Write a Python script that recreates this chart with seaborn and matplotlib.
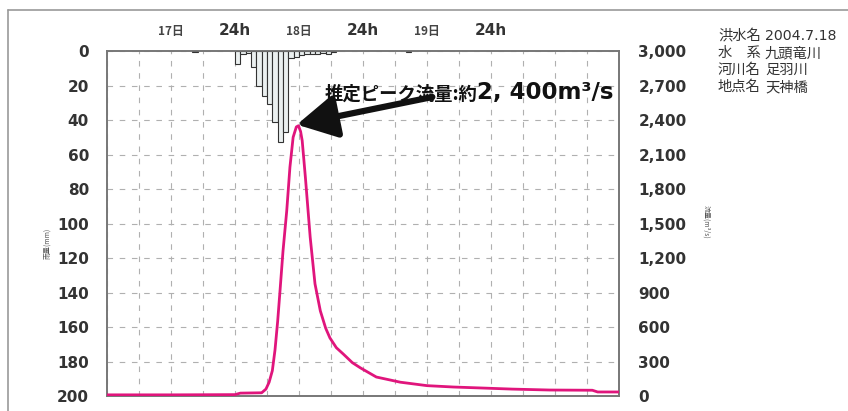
import matplotlib
matplotlib.use("Agg")
import matplotlib.pyplot as plt
import seaborn as sns
import pandas as pd
from matplotlib.lines import Line2D

# ---------------- data ----------------
rain_hours = [16, 24, 25, 26, 27, 28, 29, 30, 31, 32, 33, 34, 35, 36, 37, 38, 39, 40, 41, 42, 56]
rain_mm = [0.6, 7.5, 1.5, 1.0, 9, 20, 26, 31, 41, 53, 47, 4, 3.5, 2.5, 2.0, 1.5, 2.0, 1.0, 1.5, 0.5, 0.5]

flow_hours = [0, 12, 24, 25, 29, 29.8, 30.4, 31, 31.5, 32, 32.4, 33, 33.7, 34.3, 34.9, 35.5,
              35.9, 36.3, 36.6, 37.2, 38.1, 39, 40, 41, 41.8, 43, 44.3, 46, 47.5, 50.5, 55,
              60, 65, 70, 76, 83, 91, 92, 96]
flow_cms = [10, 10, 12, 25, 28, 60, 120, 220, 400, 650, 890, 1260, 1610, 1990, 2250, 2340,
            2350, 2300, 2220, 1900, 1380, 975, 740, 590, 505, 420, 365, 290, 245, 165, 120,
            90, 78, 70, 60, 52, 50, 35, 35]

top_labels = ["17日", "24h", "18日", "24h", "19日", "24h"]
top_label_hours = [12, 24, 36, 48, 60, 72]

rain_ticks = list(range(0, 201, 20))
flow_ticks = list(range(0, 3001, 300))

info_keys = ["洪水名", "水　系", "河川名", "地点名"]
info_vals = ["2004.7.18", "九頭竜川", "足羽川", "天神橋"]

annot_cjk = "推定ピーク流量:約"
annot_num = "2, 400m³/s"
peak_hour, peak_flow = 35.9, 2350

# ---------------- style ----------------
sns.set_theme(style="white")
plt.rcParams["font.family"] = ["DejaVu Sans", "Noto Sans CJK JP"]
CJK = ["Noto Sans CJK JP", "DejaVu Sans"]

fig = plt.figure(figsize=(8.48, 4.11), dpi=100)
ax = fig.add_axes([107 / 848, 15 / 411, 512 / 848, 345 / 411])
ax2 = ax.twinx()

rain_df = pd.DataFrame({"hour": [h + 0.5 for h in rain_hours], "rain": rain_mm})
sns.barplot(data=rain_df, x="hour", y="rain", ax=ax, native_scale=True, width=1.0,
            color="#ebf0f0", edgecolor="#333333", linewidth=0.8, saturation=1,
            errorbar=None, zorder=3)

flow_df = pd.DataFrame({"hour": flow_hours, "flow": flow_cms})
sns.lineplot(data=flow_df, x="hour", y="flow", ax=ax2, color="#e0157c", lw=2.0, zorder=4)

ax.set_xlim(0, 96)
ax.set_ylim(200, 0)
ax2.set_ylim(0, 3000)
ax2.set_xlim(0, 96)

# grid
ax.set_xticks(list(range(0, 97, 6)))
ax.set_yticks(rain_ticks)
ax.grid(True, color="#b0b0b0", linestyle=(0, (5, 6)), linewidth=0.8)
ax.set_axisbelow(True)

# top labels via secondary axis
sec = ax.secondary_xaxis("top")
sec.set_xticks(top_label_hours)
sec.set_xticklabels(top_labels)
sec.tick_params(length=0, pad=9)
for lab in sec.get_xticklabels():
    t = lab.get_text()
    if "日" in t:
        lab.set_fontfamily(CJK)
        lab.set_fontsize(8.5)
        lab.set_fontweight("bold")
        lab.set_color("#444444")
    else:
        lab.set_fontsize(11)
        lab.set_fontweight("bold")
        lab.set_color("#333333")
for s in sec.spines.values():
    s.set_visible(False)

ax.tick_params(axis="x", labelbottom=False, length=0)
ax.tick_params(axis="y", length=0, pad=13, labelsize=11, labelcolor="#333333")
for lab in ax.get_yticklabels():
    lab.set_fontweight("bold")
ax.set_xlabel("")
ax.set_ylabel("")

ax2.set_yticks(flow_ticks)
ax2.set_yticklabels([f"{v:,}" for v in flow_ticks])
ax2.tick_params(axis="y", length=0, pad=14, labelsize=11, labelcolor="#333333")
for lab in ax2.get_yticklabels():
    lab.set_fontweight("bold")
ax2.set_xlabel("")
ax2.set_ylabel("")
ax2.grid(False)

for a in (ax, ax2):
    for s in a.spines.values():
        s.set_color("#777777")
        s.set_linewidth(1.2)

# axis titles (tiny)
fig.text(47 / 848, 1 - 243 / 411, "雨量(mm)", rotation=90, fontsize=5, color="#555555",
         ha="center", va="center", family=CJK)
fig.text(706 / 848, 1 - 222 / 411, "流量(m³/s)", rotation=-90, fontsize=5, color="#555555",
         ha="center", va="center", family=CJK)

# annotation
ax2.annotate("", xy=(peak_hour - 0.3, peak_flow + 10), xytext=(61, 2600),
             arrowprops=dict(arrowstyle="-|>,head_length=1.1,head_width=0.6",
                             color="#111111", lw=4.5, mutation_scale=22, shrinkA=0, shrinkB=0),
             zorder=6, annotation_clip=False)
ax2.text(40.8, 2580, annot_cjk, fontsize=13.2, fontweight="bold", color="#111111",
         ha="left", va="baseline", family=CJK, clip_on=False, zorder=7)
ax2.text(69.4, 2580, annot_num, fontsize=16.5, fontweight="bold", color="#111111",
         ha="left", va="baseline", family=["DejaVu Sans"], clip_on=False, zorder=7)

# info block
for i, (k, v) in enumerate(zip(info_keys, info_vals)):
    y = 1 - (36 + 17 * i) / 411
    fig.text(718 / 848, y, k, fontsize=10.3, color="#333333", ha="left", va="center", family=CJK)
    vfam = ["DejaVu Sans"] if v[0].isdigit() else CJK
    vsize = 10.2 if v[0].isdigit() else 10.3
    fig.text(765 / 848, y, v, fontsize=vsize, color="#333333", ha="left", va="center", family=vfam)

# frame lines of the figure
fig.add_artist(Line2D([8 / 848, 8 / 848], [0, 1 - 10 / 411], transform=fig.transFigure,
                      color="#999999", lw=1.2))
fig.add_artist(Line2D([8 / 848, 1], [1 - 10 / 411, 1 - 10 / 411], transform=fig.transFigure,
                      color="#999999", lw=1.2))

fig.savefig("out.png", dpi=100)
